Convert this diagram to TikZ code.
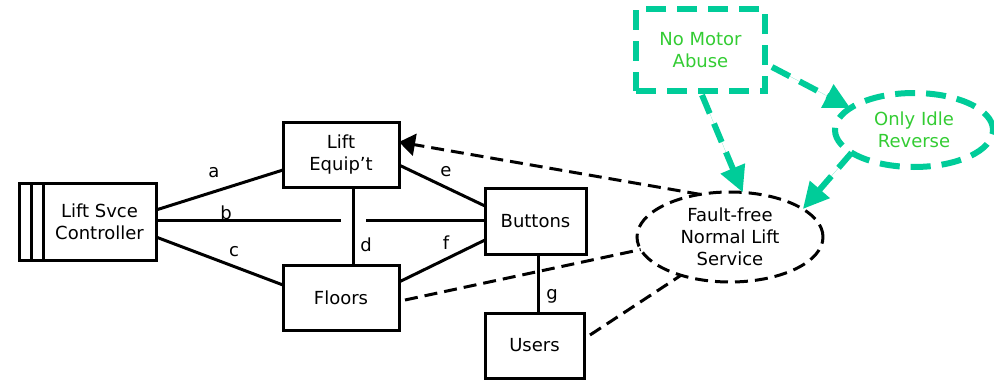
\documentclass[tikz,border=0pt]{standalone}
\usepackage{fontspec}
\setmainfont{DejaVu Sans}
\usetikzlibrary{shapes.geometric,arrows.meta,calc}
\definecolor{goalline}{RGB}{0,204,153}
\definecolor{goaltext}{RGB}{51,204,51}

\begin{document}
\begin{tikzpicture}[x=1pt,y=-1pt,
  every node/.style={font=\fontsize{18}{22}\selectfont, inner sep=0pt, outer sep=0pt},
  dombox/.style={draw, line width=3pt, rectangle, align=center},
  conn/.style={line width=3pt},
  reqoval/.style={draw, ellipse, line width=3pt, dash pattern=on 13pt off 7pt, align=center},
  reqlink/.style={line width=3pt, dash pattern=on 13pt off 7pt},
  goalbox/.style={draw=goalline, text=goaltext, line width=6pt, dash pattern=on 20pt off 11pt, align=center},
  goallink/.style={draw=goalline, line width=6pt, dash pattern=on 20pt off 11pt,
    -{Triangle[length=26pt,width=25pt]}, fill=goalline},
  blacktip/.style={-{Triangle[length=16pt,width=22pt]}}
]
\useasboundingbox (0,0) rectangle (994,380);

% domains
\node[dombox, minimum width=113pt, minimum height=77pt] (ctrl) at (99.5,221.5) {Lift Svce\\Controller};
\draw[conn] (ctrl.north west) -- ++(-24,0) |- (ctrl.south west);
\draw[conn] ($(ctrl.north west)+(-12,0)$) -- ($(ctrl.south west)+(-12,0)$);
\node[dombox, minimum width=116pt, minimum height=65pt] (equip) at (341,154.5) {Lift\\Equip’t};
\node[dombox, minimum width=101pt, minimum height=66pt] (buttons) at (535.5,221) {Buttons};
\node[dombox, minimum width=116pt, minimum height=65pt] (floors) at (341,297.5) {Floors};
\node[dombox, minimum width=99pt, minimum height=65pt] (users) at (534.5,345.5) {Users};

% requirements
\node[reqoval, minimum width=186pt, minimum height=90pt] (fault) at (730,237) {Fault-free\\Normal Lift\\Service};
\node[goalbox, ellipse, minimum width=158pt, minimum height=74pt] (idle) at (914,130) {Only Idle\\Reverse};
\node[goalbox, rectangle, minimum width=129pt, minimum height=82pt] (motor) at (700.5,50) {No Motor\\Abuse};

% shared phenomena
\draw[conn] ($(ctrl.east)+(0,-11.5)$) -- ($(equip.west)+(0,15.5)$);
\coordinate (bgapL) at (341,220);
\coordinate (bgapR) at (366,220);
\draw[conn] (ctrl.east |- bgapL) -- (bgapL);
\draw[conn] (bgapR) -- (bgapR -| buttons.west);
\draw[conn] ($(ctrl.east)+(0,15.5)$) -- ($(floors.west)+(0,-12.5)$);
\draw[conn] ($(equip.south)+(12,0)$) -- ($(floors.north)+(12,0)$);
\draw[conn] ($(equip.east)+(0,10.5)$) -- ($(buttons.west)+(0,-15)$);
\draw[conn] ($(floors.east)+(0,-15.5)$) -- ($(buttons.west)+(0,19)$);
\draw[conn] ($(buttons.south)+(2.5,0)$) -- ($(users.north)+(3.5,0)$);

\node (la) at (214,173) {a};
\node (lb) at (226,213) {b};
\node (lc) at (234,252) {c};
\node (ld) at (366,245) {d};
\node (le) at (446,172) {e};
\node (lf) at (446,243) {f};
\node (lg) at (552,296) {g};

% requirement references
\draw[reqlink, blacktip] (fault.125) -- ($(equip.east)+(0,-12.5)$);
\draw[reqlink] ($(floors.east)+(6,2.5)$) -- (fault.188);
\draw[reqlink] ($(users.east)+(6,-10.5)$) -- (fault.218);

% goal refinement
\draw[goallink] ($(motor.south)+(1.5,4)$) -- (fault.74);
\draw[goallink] ($(motor.east)+(7,17)$) -- (idle.161);
\draw[goallink] (idle.200) -- (fault.21);
\end{tikzpicture}
\end{document}
